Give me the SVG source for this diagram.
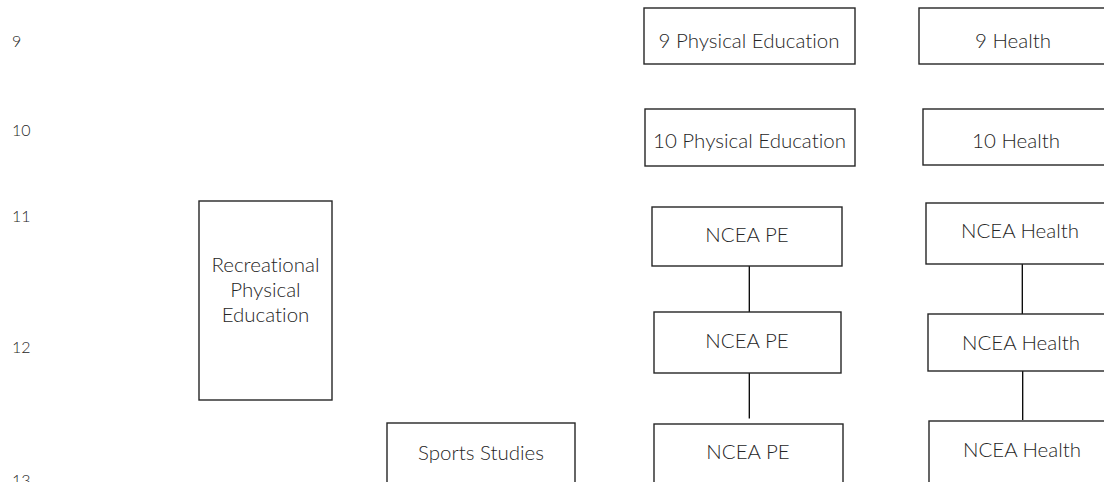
<svg xmlns="http://www.w3.org/2000/svg" width="1104" height="482" viewBox="0 0 1104 482">
<style>
.box{fill:#fff;stroke:#262626;stroke-width:1.4}
.t{font-family:Lato,"Open Sans","Noto Sans",sans-serif;font-weight:300;font-size:20.5px;fill:#262626;text-anchor:middle;font-variant-ligatures:none}
.lbl{font-family:Lato,"Open Sans","Noto Sans",sans-serif;font-weight:300;font-size:16px;fill:#262626;font-variant-ligatures:none}
.con{stroke:#000;stroke-width:1.3;fill:none}
</style>
<rect width="1104" height="482" fill="#fff"/>
<g id="year-labels">
<text class="lbl" x="12" y="47">9</text>
<text class="lbl" x="12" y="136">10</text>
<text class="lbl" x="12" y="222">11</text>
<text class="lbl" x="12" y="353">12</text>
<text class="lbl" x="12" y="486">13</text>
</g>
<g id="connectors">
<line class="con" x1="749.3" y1="266" x2="749.3" y2="312"/>
<line class="con" x1="749.3" y1="373" x2="749.3" y2="418.5"/>
<line class="con" x1="1022.3" y1="264" x2="1022.3" y2="314"/>
<line class="con" x1="1022.7" y1="371" x2="1022.7" y2="420"/>
</g>
<g id="pe9"><rect class="box" x="644" y="8" width="211" height="56"/><text class="t" x="749" y="48">9 Physical Education</text></g>
<g id="health9"><rect class="box" x="919" y="8" width="200" height="56"/><text class="t" x="1013" y="48">9 Health</text></g>
<g id="pe10"><rect class="box" x="645" y="109" width="210" height="57"/><text class="t" x="749.5" y="148">10 Physical Education</text></g>
<g id="health10"><rect class="box" x="923" y="109" width="200" height="56"/><text class="t" x="1016" y="148">10 Health</text></g>
<g id="ncea-pe-11"><rect class="box" x="652" y="207" width="190" height="59"/><text class="t" x="747" y="242">NCEA PE</text></g>
<g id="ncea-pe-12"><rect class="box" x="654" y="312" width="187" height="61"/><text class="t" x="747" y="348">NCEA PE</text></g>
<g id="ncea-pe-13"><rect class="box" x="654" y="424" width="189" height="80"/><text class="t" x="748" y="459">NCEA PE</text></g>
<g id="ncea-health-11"><rect class="box" x="926" y="203" width="200" height="61"/><text class="t" x="1020" y="238">NCEA Health</text></g>
<g id="ncea-health-12"><rect class="box" x="928" y="314" width="200" height="57"/><text class="t" x="1021" y="350">NCEA Health</text></g>
<g id="ncea-health-13"><rect class="box" x="929" y="421" width="200" height="80"/><text class="t" x="1022" y="457">NCEA Health</text></g>
<g id="recreational-pe"><rect class="box" x="199" y="201" width="133" height="199"/><text class="t" x="265.5" y="272"><tspan x="265.5" y="272">Recreational</tspan><tspan x="265.5" y="297">Physical</tspan><tspan x="265.5" y="322">Education</tspan></text></g>
<g id="sports-studies"><rect class="box" x="387" y="423" width="188" height="80"/><text class="t" x="481" y="460">Sports Studies</text></g>
</svg>
